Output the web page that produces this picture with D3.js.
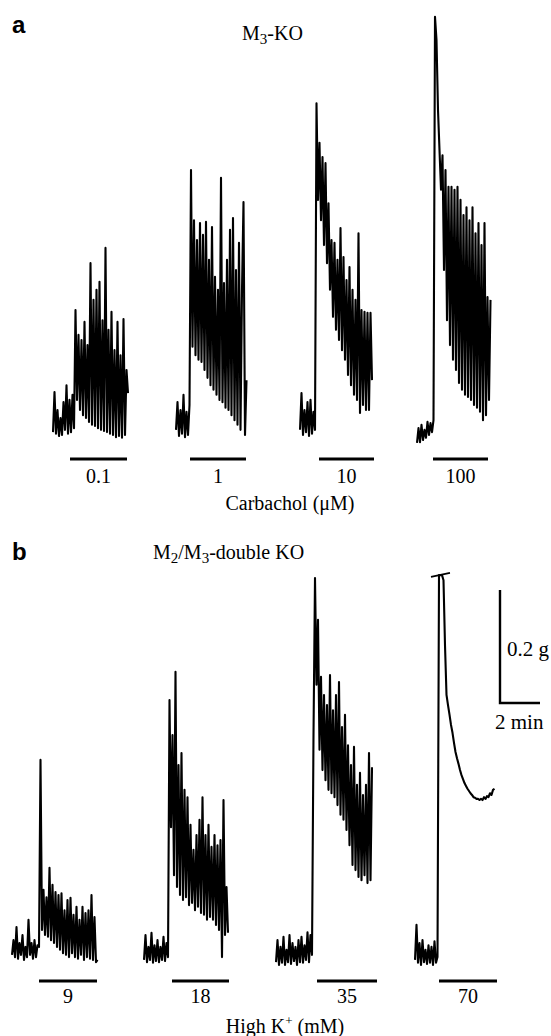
<!doctype html>
<html lang="en">
<head>
<meta charset="utf-8">
<title>M3-KO and M2/M3-double KO contractions</title>
<style>
body { margin: 0; background: #fff; }
svg text { font-family: "Liberation Serif", "Times New Roman", serif; fill: #000; }
.letter { font-family: "Liberation Sans", Arial, sans-serif; font-weight: bold; }
</style>
</head>
<body>
<script src="https://d3js.org/d3.v7.min.js"></script>
<script>

// sample interval of every trace (min)
var dt = 0.075;

// panel a: carbachol (uM), tension in mg above resting level
var carbDoses = ["0.1", "1", "10", "100"];
var carb01 = [14,85,11,53,7,39,9,67,18,97,11,71,14,80,21,230,71,186,53,177,44,209,39,168,32,313,27,248,25,266,21,280,18,212,16,340,14,195,11,227,9,159,5,209,7,150,4,214,9,124,83];
var carb1 = [18,67,7,53,11,80,5,50,9,62,478,165,389,150,354,142,384,138,363,124,386,110,319,97,377,89,289,80,266,71,464,67,278,57,319,53,372,44,393,35,301,27,349,18,266,421,9,106];
var carb10 = [18,83,9,53,14,67,7,71,11,50,18,596,425,526,389,501,345,490,313,419,266,354,218,349,195,319,177,375,159,324,142,283,115,306,97,266,80,248,71,366,48,230,62,227,53,225,53,225,106];
var carb100 = [-5,21,-4,27,0,18,4,32,9,30,14,35,749,708,584,513,443,504,301,478,212,448,168,448,142,443,124,448,101,425,89,398,80,412,76,389,71,412,62,366,57,384,50,345,35,384,44,253,71,248];
// drug application (min from start of each trace)
var carbBars = [[0.85, 3.7], [0.7, 3.5], [0.95, 3.7], [0.8, 3.55]];

// panel b: high K+ (mM)
var kDoses = ["9", "18", "35", "70"];
var k9 = [18,44,14,67,11,39,18,53,9,32,14,80,18,39,11,44,14,35,32,363,62,133,53,120,50,172,44,142,39,129,32,124,27,127,21,97,18,115,14,119,21,89,14,103,11,80,18,103,9,92,14,97,11,124,9,85,5,9];
var k18 = [9,53,5,32,9,57,4,35,7,44,5,32,9,50,7,39,14,469,244,407,159,519,138,354,124,375,115,310,120,297,106,248,110,204,97,230,103,257,92,297,89,230,80,248,85,209,80,230,71,212,62,221,14,292,53,138,57];
var k35 = [5,44,0,32,4,50,0,27,5,53,2,39,7,32,0,44,5,50,4,35,9,58,5,53,18,407,685,496,611,381,510,345,478,327,460,310,513,304,451,297,478,283,501,266,421,257,443,239,389,212,354,177,386,168,319,156,340,150,301,159,319,145,375,150,350];
var k70 = [9,71,4,39,0,44,5,27,2,35,4,32,0,42,4,14,690,690,690,681,566,478,460,443,425,411,393,377,366,356,345,336,329,322,317,312,308,304,301,297,296,294,294,292,294,292,297,294,299,297,304,301,310,312];
var kBars = [[1.35, 4.25], [1.4, 4.25], [2.05, 5.05], [1.2, 4.1]];
// off-scale mark on the 70 mM trace [min, mg]
var k70Clip = [[0.8, 687], [1.75, 694]];

// calibration
var calTension = 200; // mg (0.2 g)
var calTime = 2;      // min

var svg = d3.select("body").append("svg")
  .attr("width", 551)
  .attr("height", 1036);

// 20 px per minute, 113 px per 0.2 g
var x = d3.scaleLinear().domain([0, 1]).range([0, 20]);
var y = d3.scaleLinear().domain([0, 200]).range([0, -113]);

var line = d3.line()
  .x(function (d, i) { return x(i * dt); })
  .y(function (d) { return y(d); });

function drawPanel(traces, bars, doses, starts, base, barY, labelY) {
  traces.forEach(function (tr, k) {
    var g = svg.append("g")
      .attr("transform", "translate(" + starts[k] + "," + base + ")");

    g.append("path")
      .datum(tr)
      .attr("d", line)
      .attr("fill", "none")
      .attr("stroke", "#000")
      .attr("stroke-width", 2.1)
      .attr("stroke-linejoin", "round");

    g.append("line")
      .attr("x1", x(bars[k][0]))
      .attr("x2", x(bars[k][1]))
      .attr("y1", barY)
      .attr("y2", barY)
      .attr("stroke", "#000")
      .attr("stroke-width", 3);

    g.append("text")
      .attr("x", (x(bars[k][0]) + x(bars[k][1])) / 2)
      .attr("y", labelY)
      .attr("text-anchor", "middle")
      .attr("font-size", 20)
      .text(doses[k]);
  });
}

drawPanel([carb01, carb1, carb10, carb100], carbBars, carbDoses, [53, 176, 300, 417], 440, 19, 43);
drawPanel([k9, k18, k35, k70], kBars, kDoses, [12, 144, 276, 415], 965, 16, 38);

// clip mark on 70 mM trace
svg.append("g")
  .attr("transform", "translate(415,965)")
  .append("path")
  .datum(k70Clip)
  .attr("d", d3.line().x(function (d) { return x(d[0]); }).y(function (d) { return y(d[1]); }))
  .attr("stroke", "#000")
  .attr("stroke-width", 1.6);

// titles
svg.append("text").attr("class", "letter").attr("x", 12).attr("y", 33).attr("font-size", 24).text("a");
svg.append("text").attr("class", "letter").attr("x", 12).attr("y", 560).attr("font-size", 24).text("b");

var t1 = svg.append("text").attr("x", 242).attr("y", 40).attr("font-size", 20);
t1.append("tspan").text("M");
t1.append("tspan").attr("font-size", 15).attr("dy", 4).text("3");
t1.append("tspan").attr("dy", -4).text("-KO");

var t2 = svg.append("text").attr("x", 153).attr("y", 559).attr("font-size", 20);
t2.append("tspan").text("M");
t2.append("tspan").attr("font-size", 15).attr("dy", 4).text("2");
t2.append("tspan").attr("dy", -4).text("/M");
t2.append("tspan").attr("font-size", 15).attr("dy", 4).text("3");
t2.append("tspan").attr("dy", -4).text("-double KO");

svg.append("text").attr("x", 290).attr("y", 510).attr("text-anchor", "middle")
  .attr("font-size", 20).text("Carbachol (\u03bcM)");

var t3 = svg.append("text").attr("x", 285).attr("y", 1033).attr("text-anchor", "middle").attr("font-size", 20);
t3.append("tspan").text("High K");
t3.append("tspan").attr("font-size", 13).attr("dy", -8).text("+");
t3.append("tspan").attr("dy", 8).text(" (mM)");

// calibration bar
var cal = svg.append("g").attr("transform", "translate(500,703)");
cal.append("path")
  .attr("d", "M" + x(0) + "," + y(calTension) + "V" + y(0) + "H" + x(calTime))
  .attr("fill", "none")
  .attr("stroke", "#000")
  .attr("stroke-width", 2.4);
cal.append("text").attr("x", 7).attr("y", -47).attr("font-size", 21).text("0.2 g");
cal.append("text").attr("x", -5).attr("y", 26).attr("font-size", 21).text("2 min");

</script>
</body>
</html>
